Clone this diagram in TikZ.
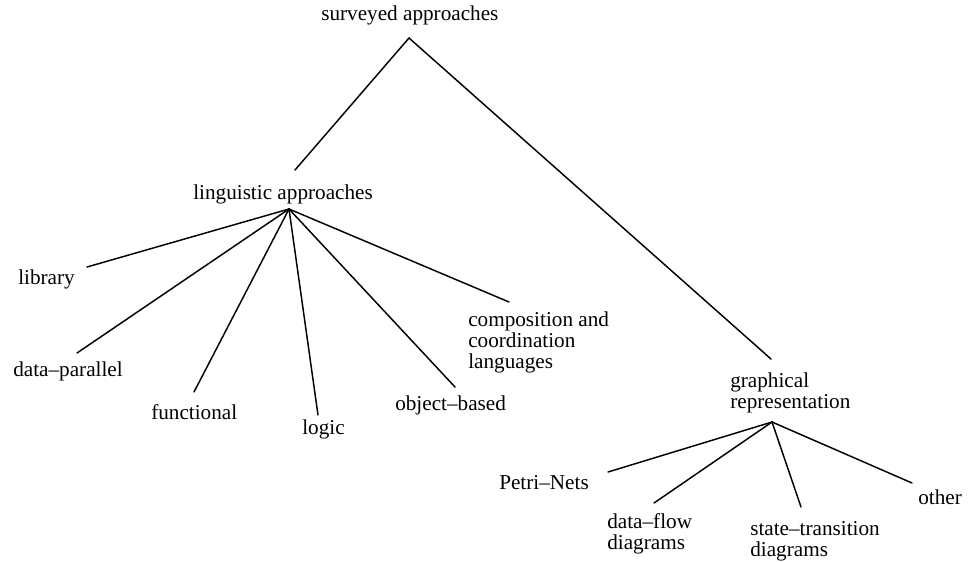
\documentclass[tikz,border=0pt]{standalone}
\usepackage{fontspec}
\setmainfont{Liberation Serif}
\begin{document}
\begin{tikzpicture}[x=0.75pt,y=-0.75pt,
		term/.style={anchor=base west,inner sep=0pt,align=left,
			font=\fontsize{15.9pt}{15.75pt}\selectfont},
		branch/.style={line width=1.1pt,line cap=round}]
		\useasboundingbox (0,0) rectangle (969,561);
		
		% top level (multi-line nodes sit on their last line)
		\node[term] (root) at (321,20) {surveyed approaches};
		\node[term] (ling) at (193,199) {linguistic approaches};
		\node[term] (graph) at (730,408) {graphical\\representation};
		
		\coordinate (root-out) at (409,38);
		\coordinate (ling-in) at (295,170);
		\coordinate (graph-in) at (771,359);
		
		\draw[branch](root-out)--(ling-in);
		\draw[branch](root-out)--(graph-in);
		
		% linguistic approaches
		\node[term] (lib) at (18,284) {library};
		\node[term] (dpar) at (13,376) {data--parallel};
		\node[term] (func) at (151,419) {functional};
		\node[term] (logic) at (302,434) {logic};
		\node[term] (obj) at (395,410) {object--based};
		\node[term] (coord) at (468,368) {composition and\\coordination\\languages};
		
		\coordinate (ling-out) at (289,209);
		\coordinate (lib-in) at (87,267);
		\coordinate (dpar-in) at (77,353);
		\coordinate (func-in) at (194,392);
		\coordinate (logic-in) at (318,415);
		\coordinate (obj-in) at (455,387);
		\coordinate (coord-in) at (509,302);
		
		\foreach \leaf in {lib,dpar,func,logic,obj,coord}
		\draw[branch](ling-out)--(\leaf-in);
		
		% graphical representation
		\node[term] (petri) at (499,489) {Petri--Nets};
		\node[term] (dflow) at (607,549) {data--flow\\diagrams};
		\node[term] (strans) at (750,556) {state--transition\\diagrams};
		\node[term] (other) at (918,504) {other};
		
		\coordinate (graph-out) at (772,422);
		\coordinate (petri-in) at (608,472);
		\coordinate (dflow-in) at (654,503);
		\coordinate (strans-in) at (801,507);
		\coordinate (other-in) at (912,483);
		
		\foreach \leaf in {petri,dflow,strans,other}
		\draw[branch](graph-out)--(\leaf-in);
		
	\end{tikzpicture}
\end{document}
